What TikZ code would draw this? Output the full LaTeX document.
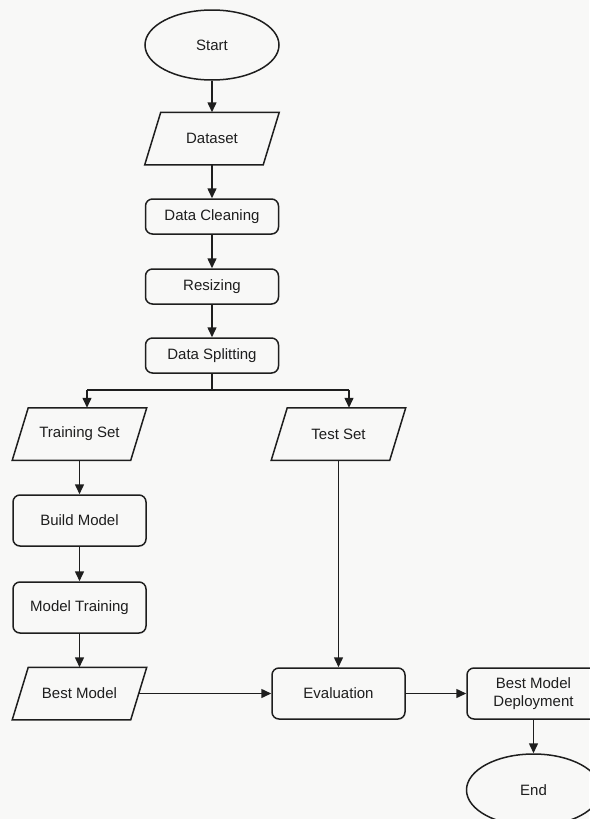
\documentclass[tikz,border=0pt]{standalone}
\usepackage{fontspec}
\setmainfont{Liberation Sans}
\usetikzlibrary{arrows.meta,shapes.geometric}
\definecolor{bg}{HTML}{F8F8F7}
\definecolor{ln}{HTML}{1E1E1E}
\newcommand{\paradraw}[1]{\draw[ln] ([xshift=16pt]#1.north west) -- (#1.north east) -- ([xshift=-16pt]#1.south east) -- (#1.south west) -- cycle;}
\begin{document}
\begin{tikzpicture}[x=1pt,y=-1pt,
 base/.style={line width=1.5pt, font=\fontsize{15}{17.5}\selectfont, text=ln, inner sep=0pt, align=center},
 proc/.style={base, draw=ln, rectangle, rounded corners=7pt, minimum width=133pt, minimum height=35pt},
 procb/.style={proc, minimum height=51pt},
 io/.style={base, rectangle, minimum width=133pt, minimum height=51pt},
 term/.style={base, draw=ln, ellipse, minimum width=134pt, minimum height=70pt},
 arr/.style={draw=ln, line width=1.5pt, -{Triangle[length=10pt,width=9pt]}},
 ln/.style={draw=ln, line width=1.5pt, line join=miter}
]
\useasboundingbox[fill=bg] (0,0) rectangle (589,819);

\node[term] (start) at (212,45) {Start};
\node[io] (dataset) at (212,138.5) {Dataset};
\node[proc] (clean) at (212,216.5) {Data Cleaning};
\node[proc] (resize) at (212,286.5) {Resizing};
\node[proc] (split) at (212,355.5) {Data Splitting};
\node[io] (train) at (79.5,434) {Training Set};
\node[io] (test) at (338.5,434) {Test Set};
\node[procb] (build) at (79.5,520.5) {Build Model};
\node[procb] (mtrain) at (79.5,607.5) {Model Training};
\node[io] (best) at (79.5,693.5) {Best Model};
\node[procb] (eval) at (338.5,693.5) {Evaluation};
\node[procb] (deploy) at (533.5,693.5) {Best Model\\Deployment};
\node[term, minimum height=72pt] (end) at (533.5,790) {End};

\paradraw{dataset}
\paradraw{train}
\paradraw{test}
\paradraw{best}

\coordinate (tl) at (87,390);
\coordinate (tr) at (349,390);

\draw[arr] (start) -- (dataset);
\draw[arr] (dataset) -- (clean);
\draw[arr] (clean) -- (resize);
\draw[arr] (resize) -- (split);
\draw[ln] (split.south) |- (tl);
\draw[arr] (tl) -- (tl |- train.north);
\draw[ln] (split.south) |- (tr);
\draw[arr] (tr) -- (tr |- test.north);
\draw[arr] (train) -- (build);
\draw[arr] (build) -- (mtrain);
\draw[arr] (mtrain) -- (best);
\draw[arr] (test) -- (eval);
\draw[arr] ([xshift=-9pt]best.east) -- (eval.west);
\draw[arr] (eval) -- (deploy);
\draw[arr] (deploy) -- (end);
\end{tikzpicture}
\end{document}
